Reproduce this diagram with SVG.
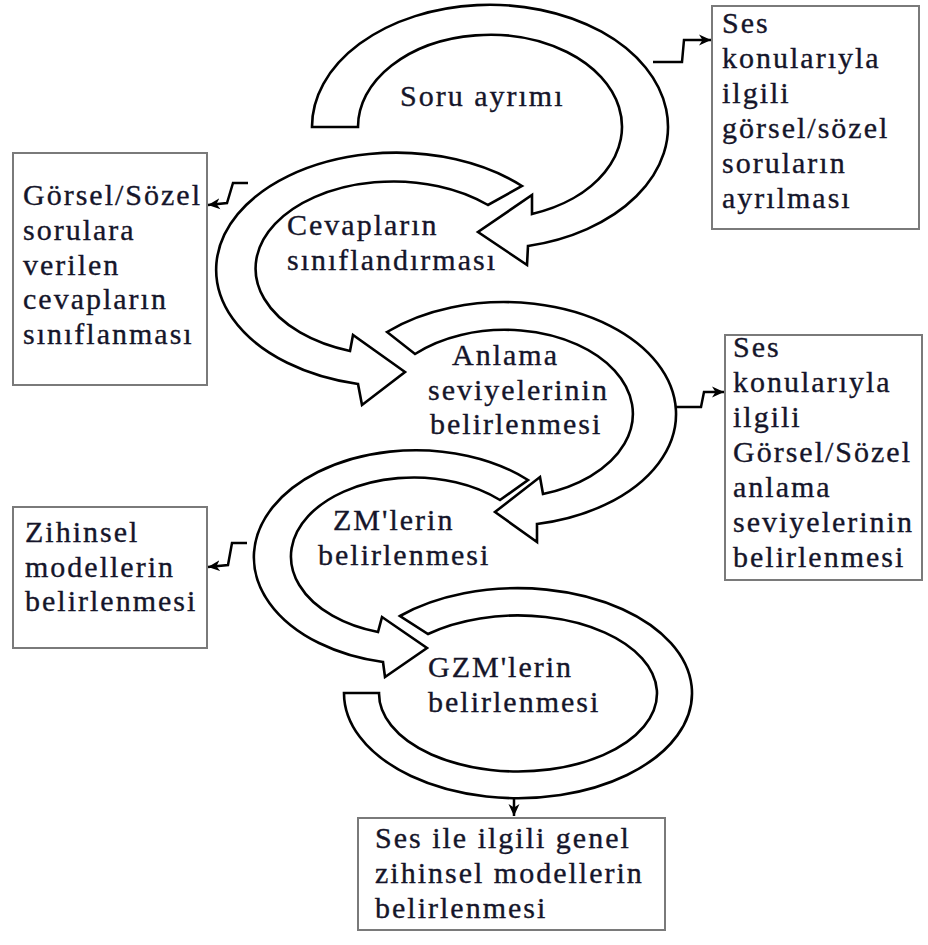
<svg xmlns="http://www.w3.org/2000/svg" width="928" height="945" viewBox="0 0 928 945">
<defs>
<style>
.bg{fill:#ffffff}
.box{fill:#ffffff;stroke:#7a7a7a;stroke-width:2}
.ring{fill:#ffffff;stroke:#000000;stroke-width:2.6;stroke-linejoin:miter}
.t{font-family:"Liberation Serif","Times New Roman",serif;font-size:30px;letter-spacing:2px;fill:#15152a;stroke:#15152a;stroke-width:0.35px}
.conn{fill:none;stroke:#000000;stroke-width:2.5}
</style>
<marker id="ah" markerUnits="userSpaceOnUse" markerWidth="14" markerHeight="12" refX="12" refY="6" orient="auto">
<path d="M0,0.5 L12,6 L0,11.5 L3.5,6 Z" fill="#000000"/>
</marker>
</defs>
<rect class="bg" x="0" y="0" width="928" height="945"/>

<g id="arrow-soru">
<path class="ring" d="M312,127 A178,122 0 1 1 528,246 L527,265 L478,232 L532,195 L532,214 A132,92 0 1 0 358,127 Z"/>
<text class="t" x="400" y="106">Soru ayrımı</text>
</g>

<g id="arrow-cevap">
<path class="ring" d="M522,186 A180,117 0 1 0 358,384 L362,405 L405,372 L353,335 L350,351 A138,87 0 1 1 488,205 Z"/>
<text class="t"><tspan x="287" y="235">Cevapların</tspan><tspan x="287" y="270">sınıflandırması</tspan></text>
</g>

<g id="arrow-anlama">
<path class="ring" d="M387,332 A172,112 0 1 1 537,524 L537,542 L495,512 L540,477 L543,494 A128,84 0 1 0 415,354 Z"/>
<text class="t"><tspan x="452" y="365">Anlama</tspan><tspan x="428" y="400">seviyelerinin</tspan><tspan x="430" y="434">belirlenmesi</tspan></text>
</g>

<g id="arrow-zm">
<path class="ring" d="M528,480 A162,107 0 1 0 383,662 L385,677 L427,648 L382,617 L378,632 A123,79 0 1 1 500,500 Z"/>
<text class="t"><tspan x="333" y="530">ZM'lerin</tspan><tspan x="318" y="565">belirlenmesi</tspan></text>
</g>

<g id="arrow-gzm">
<path class="ring" d="M400,616 A174,105 0 1 1 344,693 L379,693 A139,78 0 1 0 428,634 Z"/>
<text class="t"><tspan x="428" y="677">GZM'lerin</tspan><tspan x="428" y="712">belirlenmesi</tspan></text>
</g>

<g id="box-soru-ayrilmasi">
<rect class="box" x="712" y="6" width="207" height="223"/>
<text class="t"><tspan x="722" y="33">Ses</tspan><tspan x="722" y="68">konularıyla</tspan><tspan x="722" y="103">ilgili</tspan><tspan x="722" y="138">görsel/sözel</tspan><tspan x="722" y="173">soruların</tspan><tspan x="722" y="208">ayrılması</tspan></text>
</g>

<g id="box-cevap-sinif">
<rect class="box" x="13" y="153" width="194" height="232"/>
<text class="t"><tspan x="23" y="205">Görsel/Sözel</tspan><tspan x="23" y="240">sorulara</tspan><tspan x="23" y="275">verilen</tspan><tspan x="23" y="309">cevapların</tspan><tspan x="23" y="344">sınıflanması</tspan></text>
</g>

<g id="box-anlama-seviye">
<rect class="box" x="725" y="335" width="197" height="245"/>
<text class="t"><tspan x="733" y="357">Ses</tspan><tspan x="733" y="392">konularıyla</tspan><tspan x="733" y="427">ilgili</tspan><tspan x="733" y="462">Görsel/Sözel</tspan><tspan x="733" y="497">anlama</tspan><tspan x="733" y="532">seviyelerinin</tspan><tspan x="733" y="567">belirlenmesi</tspan></text>
</g>

<g id="box-zihinsel">
<rect class="box" x="13" y="507" width="194" height="141"/>
<text class="t"><tspan x="25" y="542">Zihinsel</tspan><tspan x="25" y="577">modellerin</tspan><tspan x="25" y="611">belirlenmesi</tspan></text>
</g>

<g id="box-genel">
<rect class="box" x="358" y="818" width="307" height="112"/>
<text class="t"><tspan x="375" y="848">Ses ile ilgili genel</tspan><tspan x="375" y="883">zihinsel modellerin</tspan><tspan x="375" y="918">belirlenmesi</tspan></text>
</g>

<g id="connectors">
<polyline class="conn" points="653,62 682,62 684,40 711,40" marker-end="url(#ah)"/>
<polyline class="conn" points="248,183 233,183 227,203 208,205" marker-end="url(#ah)"/>
<polyline class="conn" points="675,407 701,407 704,392 724,392" marker-end="url(#ah)"/>
<polyline class="conn" points="247,543 232,543 228,565 208,567" marker-end="url(#ah)"/>
<polyline class="conn" points="514,798 514,816" marker-end="url(#ah)"/>
</g>
</svg>
